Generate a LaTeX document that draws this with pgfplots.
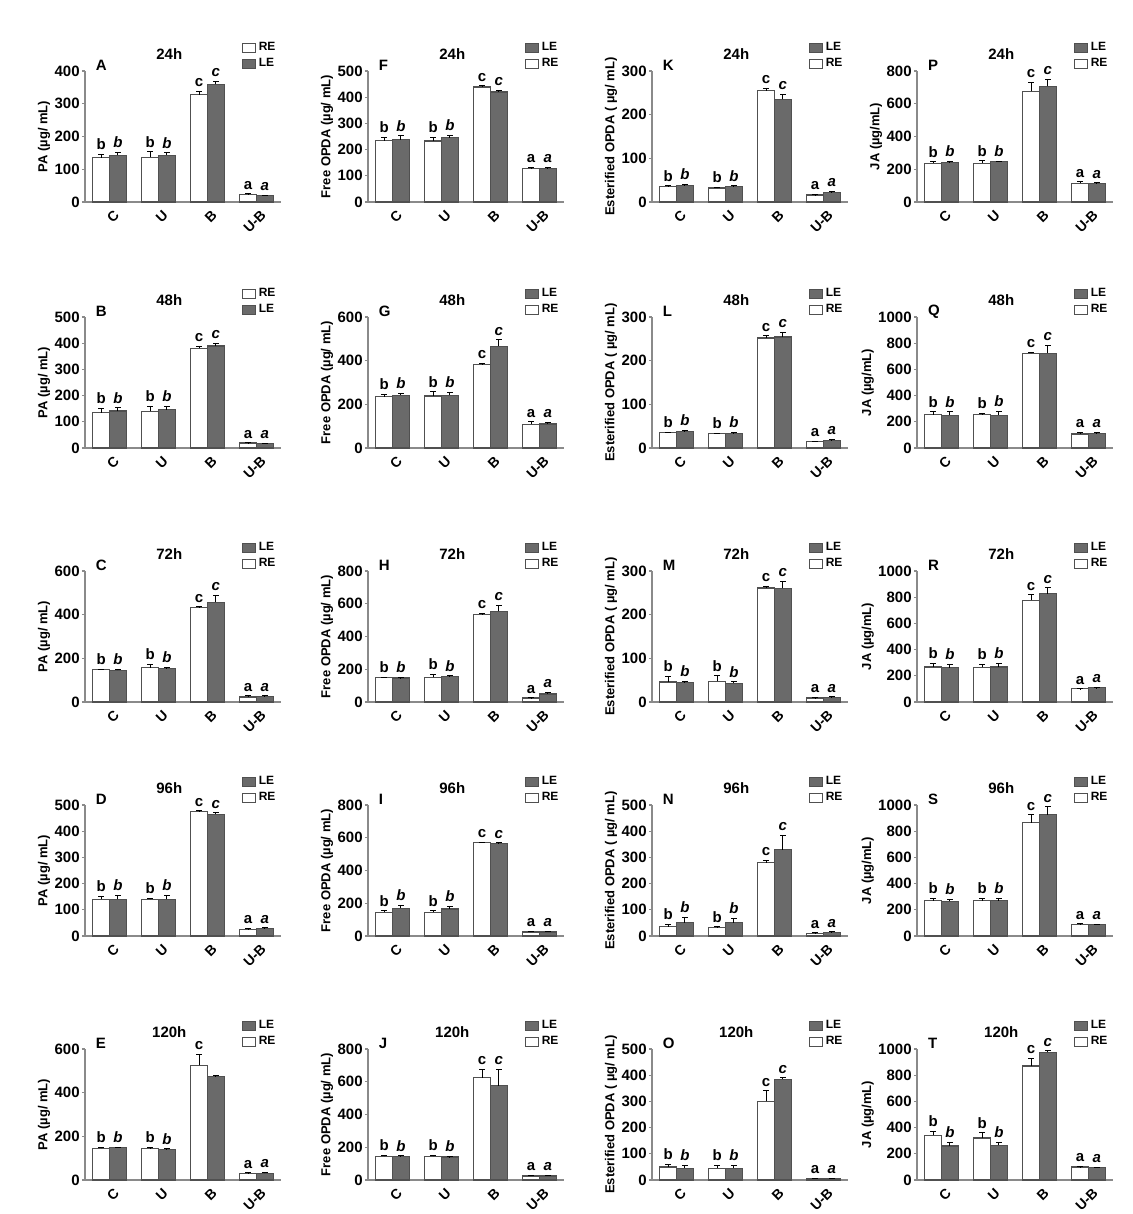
\documentclass[border=0pt]{standalone}
\usepackage{fontspec}
\setmainfont{Liberation Sans}
\usepackage{pgfplots}
\pgfplotsset{compat=1.18}
\definecolor{axg}{HTML}{8A8A8A}
\definecolor{leg}{HTML}{6A6A6A}
\definecolor{edg}{HTML}{505050}
\newcommand{\fs}[1]{\fontsize{#1}{#1}\selectfont}
\pgfplotsset{
 pan/.style={
  width=98pt, height=65.5pt, scale only axis, anchor=south west,
  ybar=0pt, bar width=8.4pt,
  xmin=-0.5, xmax=3.5, ymin=0,
  axis lines=left, axis line style={draw=axg, line width=0.6pt, -},
  xtick={0,1,2,3}, xticklabels={C,U,B,U-B},
  x tick label style={rotate=45, anchor=north east, font=\bfseries\fs{7}, inner sep=1pt, yshift=-1.5pt, xshift=1pt},
  x tick style={draw=none},
  y tick label style={font=\bfseries\fs{7.5}, inner sep=1pt},
  y tick style={draw=axg, line width=0.6pt},
  tick align=outside, major tick length=1.5pt,
  /pgf/number format/assume math mode=true,
  /pgf/number format/1000 sep={},
  ylabel style={font=\bfseries\fs{6.5}, inner sep=1pt},
  error bars/y dir=plus, error bars/y explicit,
  error bars/error bar style={black, line width=0.5pt},
  error bars/error mark options={rotate=90, black, mark size=1.4pt, line width=0.5pt},
  nodes near coords, point meta=explicit symbolic,
  visualization depends on={\thisrow{e}\as\err},
  every node near coord/.append style={anchor=south, shift={(axis direction cs:0,\err)}, font=\bfseries\fs{7.5}, inner sep=2pt, black},
  legend style={draw=none, fill=none, at={(0.8,1.24)}, anchor=north west, font=\bfseries\fs{6}, legend cell align=left, inner sep=0pt, row sep=0pt, nodes={inner sep=1.2pt}},
  legend image code/.code={\draw[#1] (0pt,-2.3pt) rectangle (6.5pt,2.3pt);},
  clip=false,
 },
 re/.style={fill=white, draw=edg, line width=0.6pt},
 le/.style={fill=leg, draw=edg, line width=0.6pt, nodes near coords style={font=\bfseries\itshape\fs{7.5}}},
}
\newcommand{\bars}[2]{%
 \addplot[re] table[x=x,y=y,y error=e,meta=l,row sep=\\]{x y e l\\#1};
 \addplot[le] table[x=x,y=y,y error=e,meta=l,row sep=\\]{x y e l\\#2};
}
\newcommand{\lab}[2]{\node[font=\bfseries\fs{7.5}, anchor=west] at (rel axis cs:0.02,1.04) {#1};
 \node[font=\bfseries\fs{7.5}] at (rel axis cs:0.43,1.13) {#2};}
\begin{document}
\begin{tikzpicture}
\path[use as bounding box] (0,0) rectangle (566.5pt,607pt);
% ---------- row 1: 24h ----------
\begin{axis}[pan, at={(42.5pt,506pt)}, ymax=400, ytick distance=100, ylabel={PA (µg/ mL)}]
\bars{0 135 10 b\\1 137 16 b\\2 327 11 c\\3 23 2 a\\}{0 142 9 b\\1 143 7 b\\2 359 10 c\\3 19 2 a\\}
\legend{RE,LE}
\lab{A}{24h}
\end{axis}
\begin{axis}[pan, at={(184pt,506pt)}, ymax=500, ytick distance=100, ylabel={Free OPDA (µg/ mL)}, reverse legend]
\bars{0 234 12 b\\1 233 15 b\\2 439 4 c\\3 129 2 a\\}{0 237 15 b\\1 246 7 b\\2 420 5 c\\3 127 6 a\\}
\legend{RE,LE}
\lab{F}{24h}
\end{axis}
\begin{axis}[pan, at={(326pt,506pt)}, ymax=300, ytick distance=100, ylabel={Esterified OPDA ( µg/ mL)}, reverse legend]
\bars{0 35 2 b\\1 32 2 b\\2 255 5 c\\3 16 1 a\\}{0 38 2 b\\1 35 2 b\\2 235 11 c\\3 22 2 a\\}
\legend{RE,LE}
\lab{K}{24h}
\end{axis}
\begin{axis}[pan, at={(458.5pt,506pt)}, ymax=800, ytick distance=200, ylabel={JA (µg/mL)}, reverse legend]
\bars{0 237 8 b\\1 237 14 b\\2 676 55 c\\3 115 8 a\\}{0 243 3 b\\1 247 3 b\\2 706 43 c\\3 111 6 a\\}
\legend{RE,LE}
\lab{P}{24h}
\end{axis}
% ---------- row 2: 48h ----------
\begin{axis}[pan, at={(42.5pt,383pt)}, ymax=500, ytick distance=100, ylabel={PA (µg/ mL)}]
\bars{0 135 15 b\\1 140 19 b\\2 380 9 c\\3 19 1 a\\}{0 141 12 b\\1 146 13 b\\2 389 10 c\\3 18 1 a\\}
\legend{RE,LE}
\lab{B}{48h}
\end{axis}
\begin{axis}[pan, at={(184pt,383pt)}, ymax=600, ytick distance=200, ylabel={Free OPDA (µg/ mL)}, reverse legend]
\bars{0 235 10 b\\1 238 19 b\\2 382 4 c\\3 109 11 a\\}{0 242 8 b\\1 242 14 b\\2 465 30 c\\3 110 7 a\\}
\legend{RE,LE}
\lab{G}{48h}
\end{axis}
\begin{axis}[pan, at={(326pt,383pt)}, ymax=300, ytick distance=100, ylabel={Esterified OPDA ( µg/ mL)}, reverse legend]
\bars{0 35 1 b\\1 33 1 b\\2 252 5 c\\3 14 1 a\\}{0 38 2 b\\1 34 1 b\\2 254 11 c\\3 18 1 a\\}
\legend{RE,LE}
\lab{L}{48h}
\end{axis}
\begin{axis}[pan, at={(458.5pt,383pt)}, ymax=1000, ytick distance=200, ylabel={JA (µg/mL)}, reverse legend]
\bars{0 255 20 b\\1 255 8 b\\2 722 8 c\\3 107 15 a\\}{0 250 25 b\\1 250 28 b\\2 722 60 c\\3 110 7 a\\}
\legend{RE,LE}
\lab{Q}{48h}
\end{axis}
% ---------- row 3: 72h ----------
\begin{axis}[pan, at={(42.5pt,256pt)}, ymax=600, ytick distance=200, ylabel={PA (µg/ mL)}, reverse legend]
\bars{0 149 1 b\\1 157 17 b\\2 431 5 c\\3 23 5 a\\}{0 146 4 b\\1 154 3 b\\2 457 31 c\\3 25 3 a\\}
\legend{RE,LE}
\lab{C}{72h}
\end{axis}
\begin{axis}[pan, at={(184pt,256pt)}, ymax=800, ytick distance=200, ylabel={Free OPDA (µg/ mL)}, reverse legend]
\bars{0 151 1 b\\1 151 18 b\\2 534 6 c\\3 24 1 a\\}{0 147 2 b\\1 155 4 b\\2 554 34 c\\3 49 8 a\\}
\legend{RE,LE}
\lab{H}{72h}
\end{axis}
\begin{axis}[pan, at={(326pt,256pt)}, ymax=300, ytick distance=100, ylabel={Esterified OPDA ( µg/ mL)}, reverse legend]
\bars{0 46 12 b\\1 47 13 b\\2 261 4 c\\3 9 1 a\\}{0 44 3 b\\1 43 3 b\\2 260 16 c\\3 11 1 a\\}
\legend{RE,LE}
\lab{M}{72h}
\end{axis}
\begin{axis}[pan, at={(458.5pt,256pt)}, ymax=1000, ytick distance=200, ylabel={JA (µg/mL)}, reverse legend]
\bars{0 267 28 b\\1 264 21 b\\2 777 41 c\\3 100 1 a\\}{0 262 28 b\\1 267 25 b\\2 826 46 c\\3 108 2 a\\}
\legend{RE,LE}
\lab{R}{72h}
\end{axis}
% ---------- row 4: 96h ----------
\begin{axis}[pan, at={(42.5pt,139pt)}, ymax=500, ytick distance=100, ylabel={PA (µg/ mL)}, reverse legend]
\bars{0 140 10 b\\1 140 5 b\\2 475 3 c\\3 25 3 a\\}{0 140 15 b\\1 140 15 b\\2 465 5 c\\3 28 3 a\\}
\legend{RE,LE}
\lab{D}{96h}
\end{axis}
\begin{axis}[pan, at={(184pt,139pt)}, ymax=800, ytick distance=200, ylabel={Free OPDA (µg/ mL)}, reverse legend]
\bars{0 145 8 b\\1 145 8 b\\2 570 3 c\\3 25 3 a\\}{0 170 15 b\\1 165 15 b\\2 565 3 c\\3 25 3 a\\}
\legend{RE,LE}
\lab{I}{96h}
\end{axis}
\begin{axis}[pan, at={(326pt,139pt)}, ymax=500, ytick distance=100, ylabel={Esterified OPDA ( µg/ mL)}, reverse legend]
\bars{0 35 10 b\\1 32 3 b\\2 280 10 c\\3 10 2 a\\}{0 50 20 b\\1 50 18 b\\2 330 55 c\\3 13 3 a\\}
\legend{RE,LE}
\lab{N}{96h}
\end{axis}
\begin{axis}[pan, at={(458.5pt,139pt)}, ymax=1000, ytick distance=200, ylabel={JA (µg/mL)}, reverse legend]
\bars{0 270 20 b\\1 270 15 b\\2 865 60 c\\3 90 3 a\\}{0 265 15 b\\1 270 15 b\\2 925 60 c\\3 85 3 a\\}
\legend{RE,LE}
\lab{S}{96h}
\end{axis}
% ---------- row 5: 120h ----------
\begin{axis}[pan, at={(42.5pt,17pt)}, ymax=600, ytick distance=200, ylabel={PA (µg/ mL)}, reverse legend]
\bars{0 145 5 b\\1 145 3 b\\2 525 50 c\\3 30 3 a\\}{0 148 3 b\\1 140 3 b\\2 475 3 {}\\3 30 5 a\\}
\legend{RE,LE}
\lab{E}{120h}
\end{axis}
\begin{axis}[pan, at={(184pt,17pt)}, ymax=800, ytick distance=200, ylabel={Free OPDA (µg/ mL)}, reverse legend]
\bars{0 145 5 b\\1 145 5 b\\2 625 50 c\\3 25 3 a\\}{0 145 3 b\\1 140 3 b\\2 575 100 c\\3 25 3 a\\}
\legend{RE,LE}
\lab{J}{120h}
\end{axis}
\begin{axis}[pan, at={(326pt,17pt)}, ymax=500, ytick distance=100, ylabel={Esterified OPDA ( µg/ mL)}, reverse legend]
\bars{0 50 10 b\\1 45 10 b\\2 300 40 c\\3 5 2 a\\}{0 45 10 b\\1 45 12 b\\2 385 5 c\\3 5 2 a\\}
\legend{RE,LE}
\lab{O}{120h}
\end{axis}
\begin{axis}[pan, at={(458.5pt,17pt)}, ymax=1000, ytick distance=200, ylabel={JA (µg/mL)}, reverse legend]
\bars{0 340 30 b\\1 320 40 b\\2 870 60 c\\3 100 3 a\\}{0 260 30 b\\1 265 25 b\\2 975 10 c\\3 95 3 a\\}
\legend{RE,LE}
\lab{T}{120h}
\end{axis}
\end{tikzpicture}
\end{document}
